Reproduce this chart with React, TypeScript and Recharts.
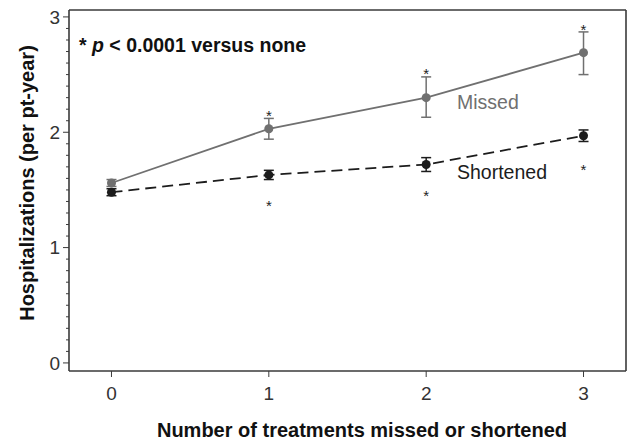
import React from "react";
import { ComposedChart, Line, Scatter, XAxis, YAxis, ErrorBar, CartesianGrid, Customized } from "recharts";

// treatments missed or shortened
const counts = [0, 1, 2, 3];

// hospitalizations per patient-year
const missed = [1.56, 2.03, 2.3, 2.69];
const missedErr = [[0.03, 0.03], [0.09, 0.09], [0.17, 0.18], [0.19, 0.18]];
const missedStar = [null, 2.17, 2.53, 2.91];

const shortened = [1.48, 1.63, 1.72, 1.97];
const shortenedErr = [[0.03, 0.03], [0.04, 0.04], [0.06, 0.06], [0.05, 0.05]];
const shortenedStar = [null, 1.39, 1.47, 1.7];

const xTicks = [0, 1, 2, 3];
const yTicks = Array.from({ length: 31 }, (_, i) => i / 10);

const X_DOMAIN = [-0.27, 3.27];
const Y_DOMAIN = [-0.07, 3.06];

const data = counts.map((x, i) => ({
  x,
  missed: missed[i],
  missedErr: missedErr[i],
  missedStar: missedStar[i],
  shortened: shortened[i],
  shortenedErr: shortenedErr[i],
  shortenedStar: shortenedStar[i],
}));

const FONT = "Arial, 'Liberation Sans', sans-serif";
const AXIS = "#3a3a3a";
const MISSED = "#707070";
const SHORT = "#1c1c1c";

const YTick = (p: any) => {
  const v = p.payload.value;
  const major = Math.abs(v - Math.round(v)) < 1e-6;
  return (
    <g>
      <line x1={p.x - (major ? 6 : 3)} x2={p.x} y1={p.y} y2={p.y} stroke={AXIS} strokeWidth={1} />
      {major && (
        <text x={p.x - 9} y={p.y} dy="0.36em" textAnchor="end" fontSize={19} fontFamily={FONT} fill="#333">
          {Math.round(v)}
        </text>
      )}
    </g>
  );
};

const star = (color: string) => (p: any) => {
  if (!Number.isFinite(p.cy)) return <g />;
  return (
    <text x={p.cx} y={p.cy + 8} textAnchor="middle" fontSize={15} fontFamily={FONT} fill={color}>
      *
    </text>
  );
};

const Texts = () => (
  <g fontFamily={FONT}>
    <text x={79} y={52} fontSize={19.5} fontWeight="bold" fill="#111">
      * <tspan fontStyle="italic">p</tspan> &lt; 0.0001 versus none
    </text>
    <text x={457} y={109} fontSize={19.5} fill={MISSED}>Missed</text>
    <text x={457} y={179} fontSize={19.5} fill={SHORT}>Shortened</text>
    <text x={362} y={437} fontSize={20} fontWeight="bold" textAnchor="middle" fill="#111">
      Number of treatments missed or shortened
    </text>
    <text x={34} y={183} fontSize={20} fontWeight="bold" textAnchor="middle" fill="#111" transform="rotate(-90 34 183)">
      Hospitalizations (per pt-year)
    </text>
  </g>
);

export default function App(): JSX.Element {
  return (
    <div style={{ position: "absolute", left: 0, top: 0, background: "#fff" }}>
      <ComposedChart width={631} height={442} data={data} margin={{ top: 10, right: 5, bottom: 0, left: 0 }}>
        {/* top and right edges of the plot frame */}
        <CartesianGrid
          stroke={AXIS}
          strokeWidth={1.6}
          horizontalCoordinatesGenerator={(p: any) => [p.offset.top]}
          verticalCoordinatesGenerator={(p: any) => [p.offset.left + p.offset.width]}
        />
        <XAxis
          dataKey="x"
          type="number"
          domain={X_DOMAIN}
          ticks={xTicks}
          height={71}
          tickSize={6}
          tickMargin={10}
          stroke={AXIS}
          axisLine={{ stroke: AXIS, strokeWidth: 1.6 }}
          tick={{ fontSize: 19, fontFamily: FONT, fill: "#333" }}
        />
        <YAxis
          type="number"
          domain={Y_DOMAIN}
          ticks={yTicks}
          interval={0}
          width={69}
          tickSize={0}
          tickMargin={0}
          tickLine={false}
          axisLine={{ stroke: AXIS, strokeWidth: 1.6 }}
          tick={YTick}
        />
        <Customized component={Texts} />
        <Line
          dataKey="shortened"
          type="linear"
          stroke={SHORT}
          strokeWidth={1.8}
          strokeDasharray="11 6"
          dot={{ r: 4.5, fill: SHORT, stroke: SHORT, strokeWidth: 0 }}
          isAnimationActive={false}
        >
          <ErrorBar dataKey="shortenedErr" direction="y" width={5} stroke={SHORT} strokeWidth={1.5} />
        </Line>
        <Line
          dataKey="missed"
          type="linear"
          stroke={MISSED}
          strokeWidth={1.8}
          dot={{ r: 4.5, fill: MISSED, stroke: MISSED, strokeWidth: 0 }}
          isAnimationActive={false}
        >
          <ErrorBar dataKey="missedErr" direction="y" width={5} stroke={MISSED} strokeWidth={1.5} />
        </Line>
        <Scatter dataKey="missedStar" shape={star("#222")} isAnimationActive={false} />
        <Scatter dataKey="shortenedStar" shape={star("#222")} isAnimationActive={false} />
      </ComposedChart>
    </div>
  );
}
